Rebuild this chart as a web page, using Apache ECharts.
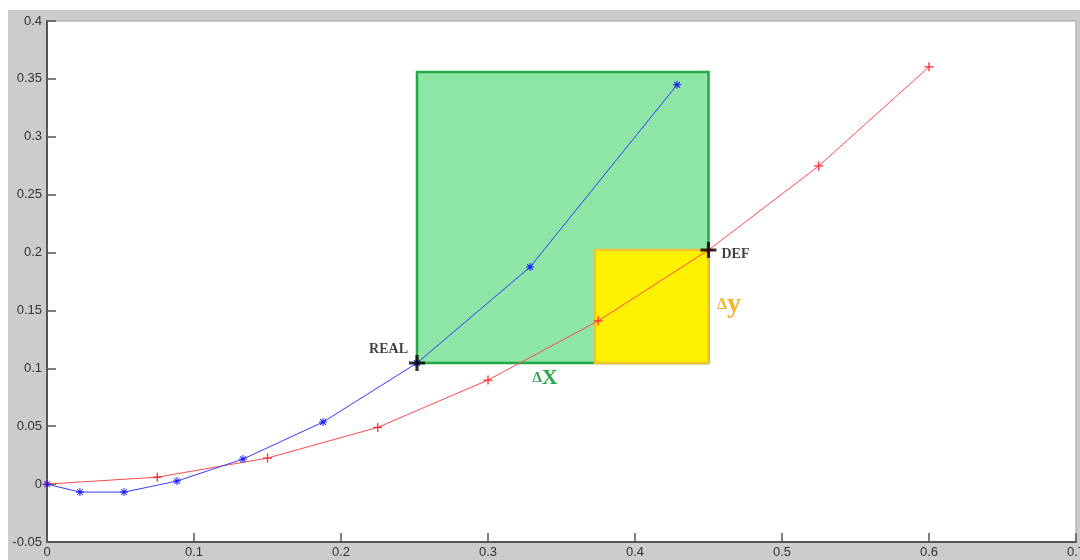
<!DOCTYPE html>
<html>
<head>
<meta charset="utf-8">
<script src="https://cdn.jsdelivr.net/npm/echarts@6/dist/echarts.min.js"></script>
<style>
  html, body { margin: 0; padding: 0; background: #ffffff; }
  #chart { position: absolute; left: 8px; top: 10px; width: 1072px; height: 550px; background: #cccccc; }
</style>
</head>
<body>
<div id="chart"></div>
<script>
// Measured curve (blue, asterisks) and reference curve (red, plus signs)
const realX = [0, 0.0224, 0.0524, 0.0884, 0.1333, 0.1878, 0.2517, 0.3286, 0.4286];
const realY = [0, -0.0069, -0.0069, 0.0026, 0.0216, 0.0536, 0.1046, 0.1875, 0.3449];
const defX = [0, 0.075, 0.15, 0.225, 0.30, 0.375, 0.45, 0.525, 0.60];
const defY = [0, 0.006, 0.0225, 0.049, 0.0899, 0.141, 0.2022, 0.2748, 0.3604];

// Highlighted points and the boxes spanning them
const realPoint = [0.2517, 0.1046];
const defPoint = [0.45, 0.2022];
const boxTopY = 0.356;
const yellowLeftX = 0.3728;

// Where the delta annotations sit
const dxLabelAt = [0.3388, 0.0916];
const dyLabelAt = [0.4640, 0.1547];

// Axis ranges
const xMin = 0, xMax = 0.7, xStep = 0.1;
const yMin = -0.05, yMax = 0.4, yStep = 0.05;

const pairs = (xs, ys) => xs.map((x, i) => [x, ys[i]]);

const plusPath = 'path://M4.3,0H5.7V4.3H10V5.7H5.7V10H4.3V5.7H0V4.3H4.3Z';
const starPath = 'path://M4.4,0H5.6V10H4.4Z M0,4.4H10V5.6H0Z M1,1.8L1.8,1L9,8.2L8.2,9Z M9,1.8L1.8,9L1,8.2L8.2,1Z';
const bigPlusPath = 'path://M4,0H6V4H10V6H6V10H4V6H0V4H4Z';

const serif = 'Liberation Serif, Times New Roman, serif';
const sans = 'Liberation Sans, Arial, sans-serif';

const chart = echarts.init(document.getElementById('chart'));
chart.setOption({
  animation: false,
  backgroundColor: '#cccccc',
  grid: {
    left: 39, top: 11, right: 4, bottom: 18,
    outerBoundsMode: 'none', containLabel: false,
    show: true, backgroundColor: '#ffffff', borderColor: '#a0a0a0', borderWidth: 1
  },
  xAxis: {
    type: 'value', min: xMin, max: xMax, interval: xStep,
    axisLine: { onZero: false, lineStyle: { color: '#555555', width: 2 } },
    axisTick: { inside: true, length: 9, lineStyle: { color: '#555555', width: 1.5 } },
    axisLabel: { margin: 4, color: '#333333', fontFamily: sans, fontSize: 13 },
    splitLine: { show: false }
  },
  yAxis: {
    type: 'value', min: yMin, max: yMax, interval: yStep,
    axisLine: { show: true, onZero: false, lineStyle: { color: '#555555', width: 2 } },
    axisTick: { show: true, inside: true, length: 9, lineStyle: { color: '#555555', width: 1.5 } },
    axisLabel: { margin: 5, color: '#333333', fontFamily: sans, fontSize: 13 },
    splitLine: { show: false }
  },
  series: [
    {
      // shaded boxes: full span (green) and the part beyond the curve crossing (yellow)
      type: 'line', data: [], z: 1,
      markArea: {
        silent: true,
        data: [
          [
            { coord: [realPoint[0], realPoint[1]], itemStyle: { color: '#8de6a6', borderColor: '#22a845', borderWidth: 2.5 } },
            { coord: [defPoint[0], boxTopY] }
          ],
          [
            { coord: [yellowLeftX, realPoint[1]], itemStyle: { color: '#fff200', borderColor: '#f4c430', borderWidth: 2.5 } },
            { coord: [defPoint[0], defPoint[1]] }
          ]
        ]
      }
    },
    {
      name: 'DEF', type: 'line', z: 3,
      data: pairs(defX, defY),
      lineStyle: { color: '#ff4a4a', width: 1 },
      itemStyle: { color: '#ff2a2a' },
      symbol: plusPath, symbolSize: 9
    },
    {
      name: 'REAL', type: 'line', z: 4,
      data: pairs(realX, realY),
      lineStyle: { color: '#3a3aff', width: 1 },
      itemStyle: { color: '#1515ff' },
      symbol: starPath, symbolSize: 8
    },
    {
      // black crosses marking the two compared points
      type: 'scatter', z: 6,
      symbol: bigPlusPath, symbolSize: 16,
      itemStyle: { color: '#000000' },
      data: [
        { value: realPoint, label: { show: true, formatter: 'REAL', position: 'left', offset: [4, -14],
          fontFamily: serif, fontWeight: 'bold', fontSize: 14, color: '#111111' } },
        { value: defPoint, label: { show: true, formatter: 'DEF', position: 'right', offset: [0, 4],
          fontFamily: serif, fontWeight: 'bold', fontSize: 14, color: '#111111' } }
      ]
    },
    {
      // delta annotations
      type: 'scatter', z: 7, symbol: 'circle', symbolSize: 2, silent: true,
      itemStyle: { color: 'rgba(255,255,255,0)' },
      label: { show: true, position: 'inside', opacity: 1 },
      data: [
        { value: dxLabelAt, label: {
          formatter: '{d|Δ}{v|X}',
          rich: {
            d: { fontFamily: serif, fontWeight: 'bold', fontSize: 15, color: '#2aa84a' },
            v: { fontFamily: serif, fontWeight: 'bold', fontSize: 22, color: '#2aa84a' }
          } } },
        { value: dyLabelAt, label: {
          formatter: '{d|Δ}{v|y}',
          rich: {
            d: { fontFamily: serif, fontWeight: 'bold', fontSize: 16, color: '#f2b530' },
            v: { fontFamily: serif, fontWeight: 'bold', fontSize: 28, color: '#f2b530' }
          } } }
      ]
    }
  ]
});
</script>
</body>
</html>
